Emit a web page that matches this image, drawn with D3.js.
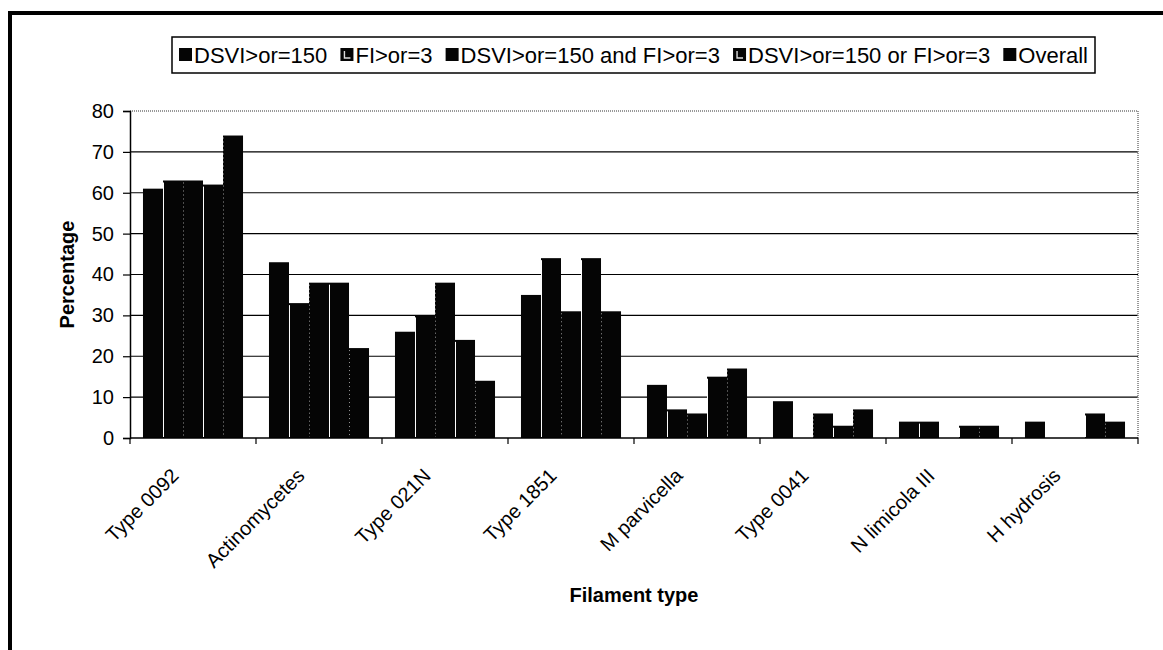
<!DOCTYPE html>
<html>
<head>
<meta charset="utf-8">
<script src="https://d3js.org/d3.v7.min.js"></script>
<style>
    body { margin: 0; background: #fff; }
    svg { display: block; }
</style>
</head>
<body>
<div id="main"></div>
<script>
var categories = ["Type 0092", "Actinomycetes", "Type 021N", "Type 1851",
    "M parvicella", "Type 0041", "N limicola III", "H hydrosis"];

var seriesNames = ["DSVI>or=150", "FI>or=3", "DSVI>or=150 and FI>or=3",
    "DSVI>or=150 or FI>or=3", "Overall"];

var dsvi    = [61, 43, 26, 35, 13, 9, 4, 4];
var fi      = [63, 33, 30, 44, 7, 0, 4, 0];
var dsviAnd = [63, 38, 38, 31, 6, 6, 0, 0];
var dsviOr  = [62, 38, 24, 44, 15, 3, 3, 6];
var overall = [74, 22, 14, 31, 17, 7, 3, 4];

var yTicks = [0, 10, 20, 30, 40, 50, 60, 70, 80];

var seriesValues = [dsvi, fi, dsviAnd, dsviOr, overall];

var width = 1163, height = 650;
var margin = {top: 111, right: 25, bottom: 212, left: 130};
var plotW = width - margin.left - margin.right,
    plotH = height - margin.top - margin.bottom;

var font = "Arial, 'Liberation Sans', sans-serif";

var svg = d3.select('#main')
    .append('svg')
    .attr("width", width)
    .attr("height", height);

// outer frame (only top and left are in view)
svg.append("line")
    .attr("x1", 10).attr("y1", 13).attr("x2", width).attr("y2", 13)
    .attr("stroke", "#000").attr("stroke-width", 4);
svg.append("line")
    .attr("x1", 10).attr("y1", 11).attr("x2", 10).attr("y2", height)
    .attr("stroke", "#000").attr("stroke-width", 4);

var g = svg.append("g")
    .attr("transform", "translate(" + margin.left + "," + margin.top + ")");

var x0 = d3.scaleBand()
    .domain(categories)
    .range([0, plotW])
    .paddingInner(0.206)
    .paddingOuter(0.103);

var x1 = d3.scaleBand()
    .domain(d3.range(seriesNames.length))
    .range([0, x0.bandwidth()]);

var y = d3.scaleLinear()
    .domain([0, 80])
    .range([plotH, 0]);

// gridlines
g.selectAll("line.grid")
    .data(yTicks.filter(function(d) { return d > 0 && d < 80; }))
    .enter()
    .append("line")
    .attr("class", "grid")
    .attr("x1", 0).attr("x2", plotW)
    .attr("y1", function(d) { return y(d); })
    .attr("y2", function(d) { return y(d); })
    .attr("stroke", "#000")
    .attr("stroke-width", 1.2);

// plot area border (top and right, dotted grey)
g.append("path")
    .attr("d", "M0," + y(80) + "H" + plotW + "V" + y(0))
    .attr("fill", "none")
    .attr("stroke", "#777")
    .attr("stroke-width", 1.5)
    .attr("stroke-dasharray", "1,1");

// bars
var rows = [];
categories.forEach(function(cat, ci) {
    seriesValues.forEach(function(vals, si) {
        rows.push({cat: cat, s: si, v: vals[ci]});
    });
});

var barsG = g.append("g");
barsG.selectAll("rect.bar")
    .data(rows.filter(function(d) { return d.v > 0; }))
    .enter()
    .append("rect")
    .attr("class", "bar")
    .attr("x", function(d) { return x0(d.cat) + x1(d.s); })
    .attr("y", function(d) { return y(d.v); })
    .attr("width", x1.bandwidth())
    .attr("height", function(d) { return y(0) - y(d.v); })
    .attr("fill", "#050505");

// thin light edges where two bars touch (scanned look)
barsG.selectAll("line.sep")
    .data(rows.filter(function(d) { return d.v > 0 && d.s > 0; }))
    .enter()
    .append("line")
    .attr("class", "sep")
    .attr("x1", function(d) { return x0(d.cat) + x1(d.s) + 0.5; })
    .attr("x2", function(d) { return x0(d.cat) + x1(d.s) + 0.5; })
    .attr("y1", function(d) { return y(d.v) + 2; })
    .attr("y2", y(0) - 1)
    .attr("stroke", function(d) { return (d.s === 1 || d.s === 3) ? "#fff" : "#999"; })
    .attr("stroke-width", 1)
    .attr("stroke-dasharray", function(d) { return (d.s === 1 || d.s === 3) ? null : "1,3"; });

// y axis
var yAxis = d3.axisLeft(y)
    .tickValues(yTicks)
    .tickSize(7)
    .tickPadding(9);

g.append("g")
    .call(yAxis)
    .call(function(a) {
        a.select(".domain").attr("stroke", "#000").attr("stroke-width", 1.5);
        a.selectAll(".tick line").attr("stroke", "#000").attr("stroke-width", 1.2);
        a.selectAll(".tick text")
            .attr("font-family", font)
            .attr("font-size", "20px")
            .attr("fill", "#000");
    });

// x axis: ticks on category boundaries
g.append("line")
    .attr("x1", 0).attr("x2", plotW)
    .attr("y1", y(0)).attr("y2", y(0))
    .attr("stroke", "#000").attr("stroke-width", 1.5);

var step = x0.step();
g.selectAll("line.xtick")
    .data(d3.range(categories.length + 1))
    .enter()
    .append("line")
    .attr("class", "xtick")
    .attr("x1", function(d) { return d * step; })
    .attr("x2", function(d) { return d * step; })
    .attr("y1", y(0)).attr("y2", y(0) + 6)
    .attr("stroke", "#000").attr("stroke-width", 1.2);

g.selectAll("text.xlab")
    .data(categories)
    .enter()
    .append("text")
    .attr("class", "xlab")
    .attr("transform", function(d) {
        return "translate(" + (x0(d) + x0.bandwidth() / 2 - 18) + "," + (y(0) + 34) + ") rotate(-45)";
    })
    .attr("text-anchor", "end")
    .attr("dy", "0.35em")
    .attr("font-family", font)
    .attr("font-size", "20px")
    .text(function(d) { return d; });

// axis titles
g.append("text")
    .attr("x", plotW / 2)
    .attr("y", y(0) + 164)
    .attr("text-anchor", "middle")
    .attr("font-family", font)
    .attr("font-weight", "bold")
    .attr("font-size", "20px")
    .text("Filament type");

svg.append("text")
    .attr("transform", "translate(74," + (margin.top + plotH / 2) + ") rotate(-90)")
    .attr("text-anchor", "middle")
    .attr("font-family", font)
    .attr("font-weight", "bold")
    .attr("font-size", "20px")
    .text("Percentage");

// legend: box spans 172..1095, entries spread to fill it
var legLeft = 172, legRight = 1095, ly = 55;
var legend = svg.append("g");
legend.append("rect")
    .attr("x", legLeft)
    .attr("y", 37)
    .attr("width", legRight - legLeft)
    .attr("height", 36)
    .attr("fill", "#fff")
    .attr("stroke", "#000")
    .attr("stroke-width", 1.5);

var items = seriesNames.map(function(name, i) {
    var it = legend.append("g");
    it.append("rect")
        .attr("x", 0)
        .attr("y", ly - 7)
        .attr("width", 13)
        .attr("height", 13)
        .attr("fill", "#050505");
    if (i === 1 || i === 3) {
        it.append("path")
            .attr("d", "M4," + (ly - 4) + "V" + (ly + 3) + "H10")
            .attr("fill", "none")
            .attr("stroke", "#ddd")
            .attr("stroke-width", 1.4);
    }
    var t = it.append("text")
        .attr("x", 15)
        .attr("y", ly)
        .attr("dy", "0.35em")
        .attr("font-family", font)
        .attr("font-size", "22px")
        .text(name);
    return {g: it, w: 15 + t.node().getComputedTextLength()};
});

var used = d3.sum(items, function(d) { return d.w; });
var gap = (legRight - legLeft - 14 - used) / (items.length - 1);
var lx = legLeft + 7;
items.forEach(function(it) {
    it.g.attr("transform", "translate(" + lx + ",0)");
    lx += it.w + gap;
});
</script>
</body>
</html>
